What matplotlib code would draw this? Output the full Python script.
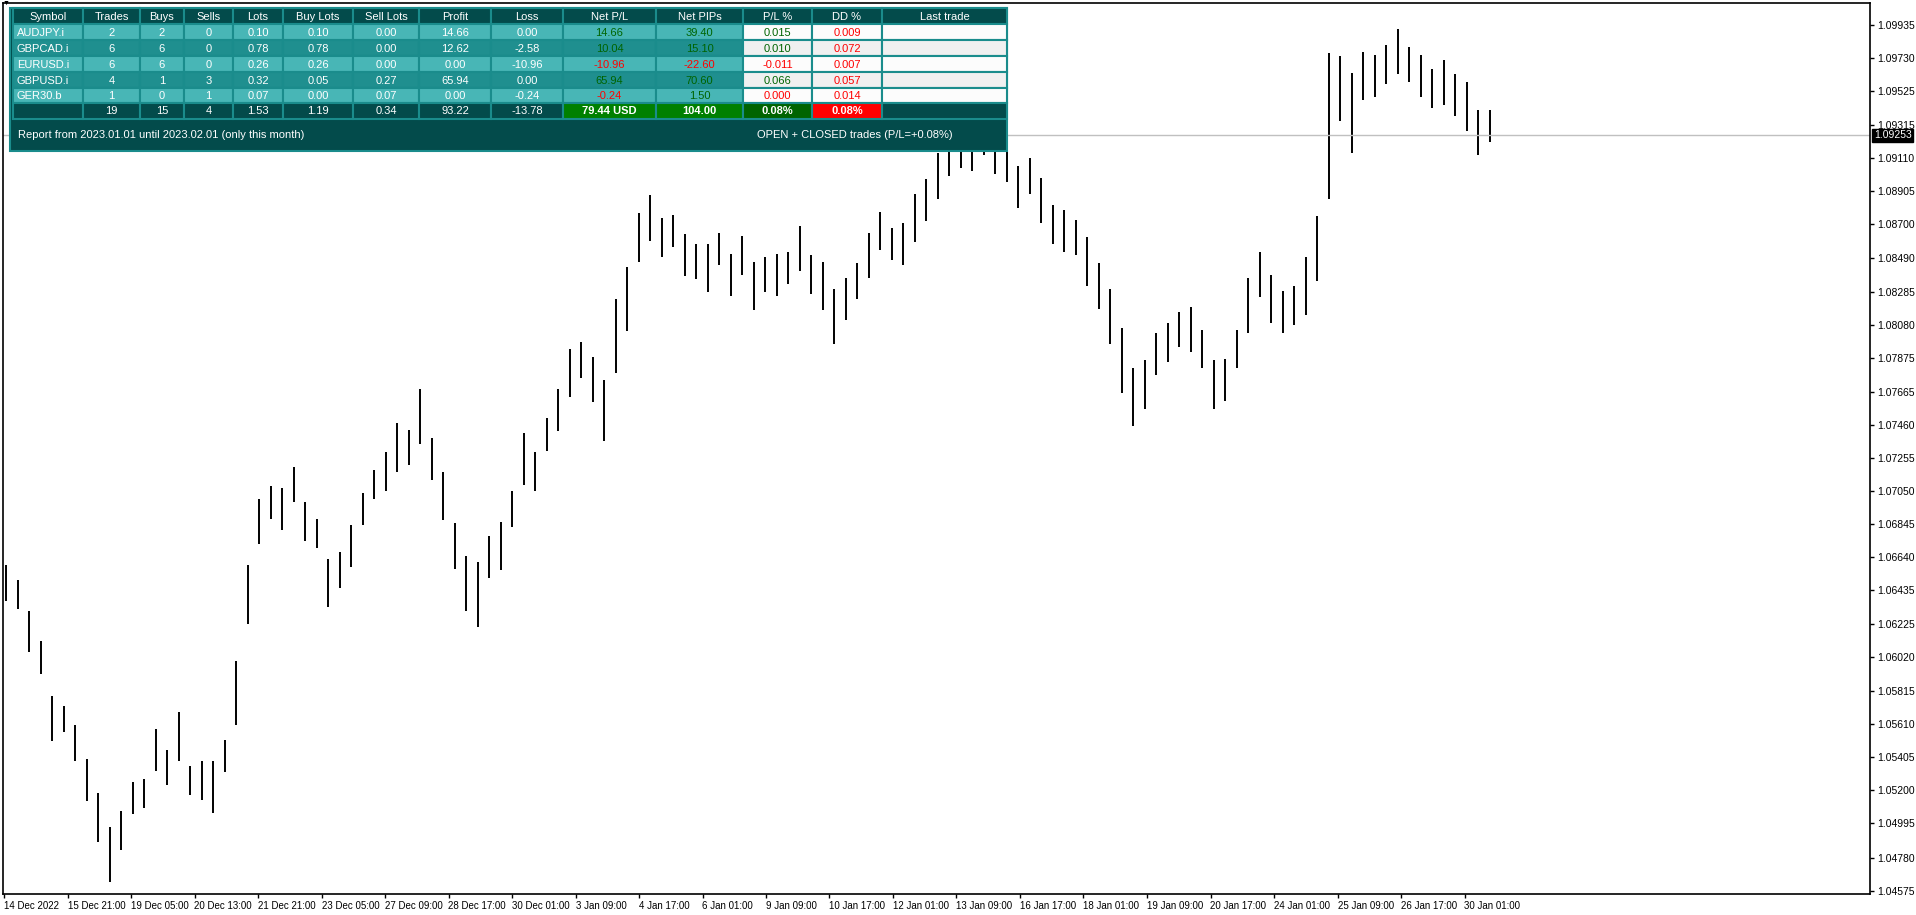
import matplotlib
matplotlib.use("Agg")
import matplotlib.pyplot as plt
from matplotlib.patches import Rectangle
import numpy as np

plt.rcParams['font.family'] = ['Liberation Sans', 'DejaVu Sans']

# EURUSD H1 bars: mid price and range (pips)
mid = [1.0648, 1.0641, 1.0618, 1.0602, 1.0564, 1.0564, 1.0549, 1.0526, 1.0503, 1.0480,
       1.0495, 1.0515, 1.0518, 1.0545, 1.0534, 1.0553, 1.0526, 1.0526, 1.0522, 1.0541,
       1.0580, 1.0641, 1.0686, 1.0698, 1.0694, 1.0709, 1.0686, 1.0679, 1.0648, 1.0656,
       1.0671, 1.0694, 1.0709, 1.0717, 1.0732, 1.0732, 1.0751, 1.0725, 1.0702, 1.0671,
       1.0648, 1.0641, 1.0664, 1.0671, 1.0694, 1.0725, 1.0717, 1.0740, 1.0755, 1.0778,
       1.0786, 1.0774, 1.0755, 1.0801, 1.0824, 1.0862, 1.0874, 1.0862, 1.0866, 1.0851,
       1.0847, 1.0843, 1.0855, 1.0839, 1.0851, 1.0832, 1.0839, 1.0839, 1.0843, 1.0855,
       1.0839, 1.0832, 1.0813, 1.0824, 1.0835, 1.0851, 1.0866, 1.0858, 1.0858, 1.0874,
       1.0885, 1.0900, 1.0912, 1.0916, 1.0916, 1.0923, 1.0916, 1.0908, 1.0893, 1.0900,
       1.0885, 1.0870, 1.0866, 1.0862, 1.0847, 1.0832, 1.0813, 1.0786, 1.0763, 1.0771,
       1.0790, 1.0797, 1.0805, 1.0805, 1.0793, 1.0771, 1.0774, 1.0793, 1.0820, 1.0839,
       1.0824, 1.0816, 1.0820, 1.0832, 1.0855, 1.0931, 1.0954, 1.0939, 1.0962, 1.0962,
       1.0969, 1.0977, 1.0969, 1.0962, 1.0954, 1.0958, 1.0950, 1.0943, 1.0927, 1.0931]
rng = [22, 18, 25, 20, 28, 16, 22, 26, 30, 34,
       24, 20, 18, 26, 22, 30, 18, 24, 32, 20,
       40, 36, 28, 20, 26, 22, 24, 18, 30, 22,
       26, 20, 18, 24, 30, 22, 34, 26, 30, 28,
       34, 40, 26, 30, 22, 32, 24, 20, 26, 30,
       22, 28, 38, 46, 40, 30, 28, 24, 20, 26,
       22, 30, 20, 26, 24, 30, 22, 26, 20, 28,
       24, 30, 34, 26, 22, 28, 24, 20, 26, 30,
       26, 28, 24, 22, 26, 20, 30, 24, 26, 22,
       28, 24, 26, 22, 30, 28, 34, 40, 36, 30,
       26, 24, 22, 28, 24, 30, 26, 24, 34, 28,
       30, 26, 24, 36, 40, 90, 40, 50, 30, 26,
       24, 28, 22, 26, 24, 28, 26, 30, 28, 20]
last_price = 1.09253

y_ticks = [1.09935, 1.09730, 1.09525, 1.09315, 1.09110, 1.08905, 1.08700, 1.08490, 1.08285,
           1.08080, 1.07875, 1.07665, 1.07460, 1.07255, 1.07050, 1.06845, 1.06640, 1.06435,
           1.06225, 1.06020, 1.05815, 1.05610, 1.05405, 1.05200, 1.04995, 1.04780, 1.04575]
x_labels = ["14 Dec 2022", "15 Dec 21:00", "19 Dec 05:00", "20 Dec 13:00", "21 Dec 21:00",
            "23 Dec 05:00", "27 Dec 09:00", "28 Dec 17:00", "30 Dec 01:00", "3 Jan 09:00",
            "4 Jan 17:00", "6 Jan 01:00", "9 Jan 09:00", "10 Jan 17:00", "12 Jan 01:00",
            "13 Jan 09:00", "16 Jan 17:00", "18 Jan 01:00", "19 Jan 09:00", "20 Jan 17:00",
            "24 Jan 01:00", "25 Jan 09:00", "26 Jan 17:00", "30 Jan 01:00"]

# report table
columns = ["Symbol", "Trades", "Buys", "Sells", "Lots", "Buy Lots", "Sell Lots", "Profit",
           "Loss", "Net P/L", "Net PIPs", "P/L %", "DD %", "Last trade"]
symbols = ["AUDJPY.i", "GBPCAD.i", "EURUSD.i", "GBPUSD.i", "GER30.b"]
trades = [2, 6, 6, 4, 1]
buys = [2, 6, 6, 1, 0]
sells = [0, 0, 0, 3, 1]
lots = [0.10, 0.78, 0.26, 0.32, 0.07]
buy_lots = [0.10, 0.78, 0.26, 0.05, 0.00]
sell_lots = [0.00, 0.00, 0.00, 0.27, 0.07]
profit = [14.66, 12.62, 0.00, 65.94, 0.00]
loss = [0.00, -2.58, -10.96, 0.00, -0.24]
net_pl = [14.66, 10.04, -10.96, 65.94, -0.24]
net_pips = [39.40, 15.10, -22.60, 70.60, 1.50]
pl_pct = [0.015, 0.010, -0.011, 0.066, 0.000]
dd_pct = [0.009, 0.072, 0.007, 0.057, 0.014]
totals = ["", "19", "15", "4", "1.53", "1.19", "0.34", "93.22", "-13.78",
          "79.44 USD", "104.00", "0.08%", "0.08%", ""]

W, H = 1916, 915
fig = plt.figure(figsize=(W / 100, H / 100), dpi=100)
L, R, T, B = 3, 1870, 3, 894
ax = fig.add_axes([L / W, 1 - B / H, (R - L) / W, (B - T) / H])

x = np.arange(len(mid))
hi = [m + r / 20000 for m, r in zip(mid, rng)]
lo = [m - r / 20000 for m, r in zip(mid, rng)]
ax.vlines(x, lo, hi, color="black", lw=1.4)
ax.axhline(last_price, color="#c0c0c0", lw=1)

step = 11.5
ax.set_xlim(-(6 - L) / step, (R - 6) / step)
ax.set_ylim(1.04556, 1.10071)
ax.yaxis.tick_right()
ax.set_yticks(y_ticks)
ax.set_yticklabels([f"{v:.5f}" for v in y_ticks], fontsize=7.5)
ax.set_xticks([(4 - 6) / step + k * 63.5 / step for k in range(len(x_labels))])
ax.set_xticklabels(x_labels, fontsize=7, ha="left")
ax.tick_params(length=3, width=1, pad=2)
for s in ax.spines.values():
    s.set_linewidth(1.2)
ax.text(1.002, last_price, f"{last_price:.5f}", transform=ax.get_yaxis_transform(),
        fontsize=7.5, color="white", va="center", ha="left",
        bbox=dict(boxstyle="square,pad=0.15", fc="black", ec="black"))

# overlay in pixel coordinates
ov = fig.add_axes([0, 0, 1, 1], facecolor="none")
ov.set_xlim(0, W)
ov.set_ylim(H, 0)
ov.axis("off")

edges = [13, 83, 140, 184, 233, 283, 353, 419, 491, 563, 656, 743, 812, 882, 1007]
row_y = [8, 24, 40, 56, 72, 88, 103, 119]
dark = "#034b4b"
line = "#1a8c8c"
light_row = "#48b6b6"
mid_row = "#1f8f8f"
green_txt = "#006400"
red_txt = "#ff0000"

ov.add_patch(Rectangle((edges[0] - 3, row_y[0]), edges[-1] - edges[0] + 3, 151 - row_y[0],
                       fc=dark, ec=line, lw=1.5))


def cell(c, r, bg, txt, color="white", bold=False, align="center"):
    x0, x1 = edges[c], edges[c + 1]
    y0, y1 = row_y[r], row_y[r + 1]
    ov.add_patch(Rectangle((x0, y0), x1 - x0, y1 - y0, fc=bg, ec=line, lw=1.5))
    if align == "left":
        ov.text(x0 + 4, (y0 + y1) / 2 + 0.5, txt, color=color, fontsize=8, va="center",
                ha="left", fontweight="bold" if bold else "normal")
    else:
        ov.text((x0 + x1) / 2, (y0 + y1) / 2 + 0.5, txt, color=color, fontsize=8,
                va="center", ha="center", fontweight="bold" if bold else "normal")


for c, name in enumerate(columns):
    cell(c, 0, dark, name)

for i in range(len(symbols)):
    bg = light_row if i % 2 == 0 else mid_row
    white_bg = "#fcfcfc" if i % 2 == 0 else "#f0f0f0"
    vals = [symbols[i], str(trades[i]), str(buys[i]), str(sells[i]), f"{lots[i]:.2f}",
            f"{buy_lots[i]:.2f}", f"{sell_lots[i]:.2f}", f"{profit[i]:.2f}", f"{loss[i]:.2f}"]
    for c, v in enumerate(vals):
        cell(c, i + 1, bg, v, align="left" if c == 0 else "center")
    cell(9, i + 1, bg, f"{net_pl[i]:.2f}", green_txt if net_pl[i] >= 0 else red_txt)
    cell(10, i + 1, bg, f"{net_pips[i]:.2f}", green_txt if net_pips[i] >= 0 else red_txt)
    cell(11, i + 1, white_bg, f"{pl_pct[i]:.3f}", green_txt if pl_pct[i] > 0 else red_txt)
    cell(12, i + 1, white_bg, f"{dd_pct[i]:.3f}", red_txt)
    cell(13, i + 1, white_bg, "")

total_bg = [dark] * 9 + ["#008000", "#008000", "#006400", "#ff0000", dark]
for c, v in enumerate(totals):
    cell(c, 6, total_bg[c], v, bold=c >= 9)

ov.text(18, 135, "Report from 2023.01.01 until 2023.02.01 (only this month)",
        color="white", fontsize=8, va="center")
ov.text(757, 135, "OPEN + CLOSED trades (P/L=+0.08%)", color="white", fontsize=8, va="center")
ov.text(3, 3, "\u25bc", fontsize=5, va="center", color="black")

fig.savefig("out.png", dpi=100)
